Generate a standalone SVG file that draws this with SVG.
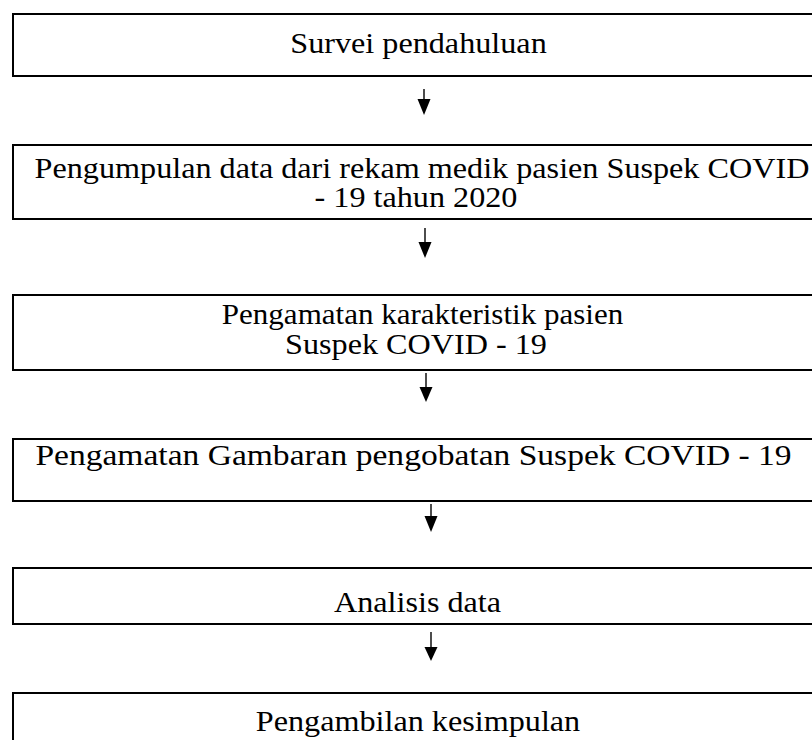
<svg xmlns="http://www.w3.org/2000/svg" width="812" height="740" viewBox="0 0 812 740">
<defs>
<style>
.box{fill:#fff;stroke:#000;stroke-width:2}
.lbl{font-size:29px;fill:#000;text-anchor:middle}
.con{stroke:#000;stroke-width:1.4;fill:none}
.head{fill:#000}
</style>
</defs>
<rect width="812" height="740" fill="#fff"/>
<g font-family="Liberation Serif">
<g id="n1">
<rect class="box" x="13" y="14" width="820" height="62"/>
<text class="lbl" font-family="Liberation Serif" transform="translate(418.5,53) scale(1.11,1)">Survei pendahuluan</text>
</g>
<g id="n2">
<rect class="box" x="13" y="145" width="820" height="74"/>
<text class="lbl" font-family="Liberation Serif" transform="translate(422,178) scale(1.11,1)">Pengumpulan data dari rekam medik pasien Suspek COVID</text>
<text class="lbl" font-family="Liberation Serif" transform="translate(416,207) scale(1.11,1)">- 19 tahun 2020</text>
</g>
<g id="n3">
<rect class="box" x="13" y="295" width="820" height="75"/>
<text class="lbl" font-family="Liberation Serif" transform="translate(422.5,324) scale(1.07,1)">Pengamatan karakteristik pasien</text>
<text class="lbl" font-family="Liberation Serif" transform="translate(416,354) scale(1.11,1)">Suspek COVID - 19</text>
</g>
<g id="n4">
<rect class="box" x="13" y="439" width="820" height="62"/>
<text class="lbl" font-family="Liberation Serif" transform="translate(413.5,465) scale(1.157,1)">Pengamatan Gambaran pengobatan Suspek COVID - 19</text>
</g>
<g id="n5">
<rect class="box" x="13" y="568" width="820" height="56"/>
<text class="lbl" font-family="Liberation Serif" transform="translate(417.5,612) scale(1.11,1)">Analisis data</text>
</g>
<g id="n6">
<rect class="box" x="13" y="693" width="820" height="70"/>
<text class="lbl" font-family="Liberation Serif" transform="translate(418,731) scale(1.11,1)">Pengambilan kesimpulan</text>
</g>
</g>
<g id="connectors">
<line class="con" x1="424" y1="89" x2="424" y2="100"/>
<polygon class="head" points="417.5,99 430.5,99 424,115"/>
<line class="con" x1="425" y1="228" x2="425" y2="243"/>
<polygon class="head" points="418.5,242 431.5,242 425,258"/>
<line class="con" x1="426" y1="373" x2="426" y2="388"/>
<polygon class="head" points="419.5,387 432.5,387 426,402"/>
<line class="con" x1="431" y1="504" x2="431" y2="517"/>
<polygon class="head" points="424.5,516 437.5,516 431,532"/>
<line class="con" x1="431" y1="632" x2="431" y2="648"/>
<polygon class="head" points="424.5,647 437.5,647 431,661"/>
</g>
</svg>
